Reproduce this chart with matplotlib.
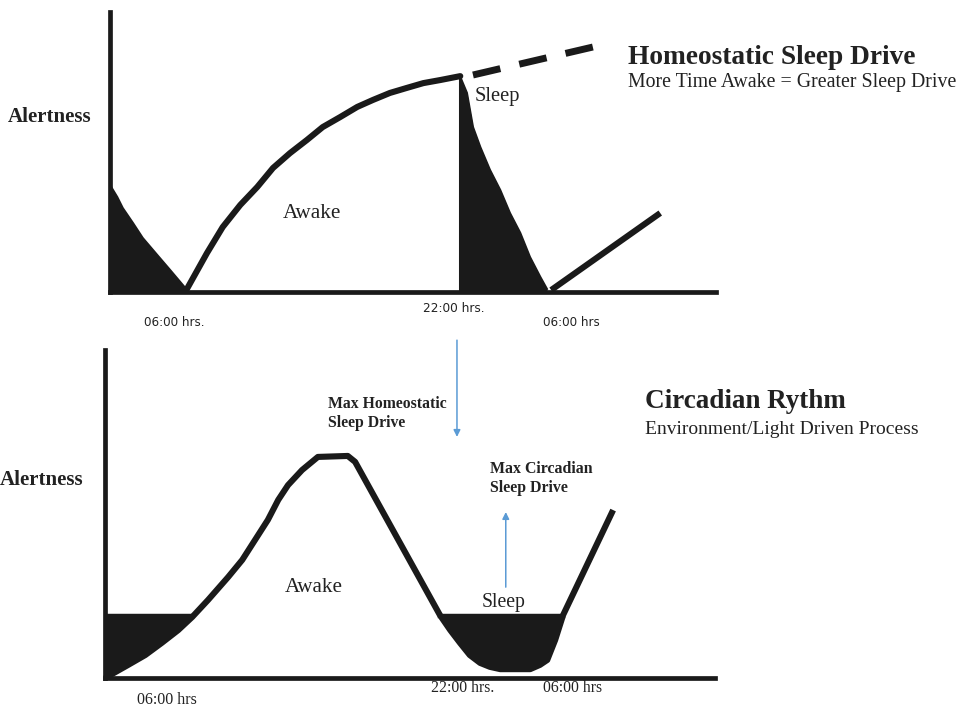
import matplotlib
matplotlib.use("Agg")
import matplotlib.pyplot as plt
import numpy as np

plt.rcParams['lines.scale_dashes'] = False

# ---------------- data (schematic units 0-100) ----------------
# Top panel: homeostatic sleep drive
top_sleep1_x = [0.0, 1.2, 2.1, 3.8, 5.4, 7.8, 9.9, 12.4]
top_sleep1_y = [38.2, 33.9, 30.0, 24.6, 19.3, 13.2, 7.9, 1.5]
top_awake_x = [12.7, 16.0, 18.6, 21.5, 24.3, 26.9, 29.7, 32.5, 35.1, 38.0,
               40.8, 43.4, 46.2, 49.0, 51.7, 54.5, 57.8]
top_awake_y = [1.1, 13.9, 23.2, 31.1, 37.5, 44.3, 49.6, 54.3, 58.9, 62.5,
               66.1, 68.6, 71.1, 72.9, 74.6, 75.7, 77.1]
top_sleep2_x = [57.8, 58.9, 59.4, 59.9, 61.1, 62.7, 64.4, 66.0, 67.7, 69.3, 71.0, 72.1]
top_sleep2_y = [76.8, 71.1, 65.0, 58.9, 51.8, 43.6, 36.4, 28.2, 21.1, 12.5, 5.4, 1.1]
top_dash_x = [59.9, 79.7]
top_dash_y = [77.5, 87.5]
top_rise_x = [72.8, 90.8]
top_rise_y = [0.7, 28.2]

# Bottom panel: circadian rhythm
bot_curve_x = [0.0, 3.8, 6.6, 9.3, 12.0, 14.3, 16.9, 20.2, 22.5, 24.6, 26.7, 28.4,
               30.0, 32.3, 34.9, 39.8, 41.0, 54.9, 56.6, 58.2, 59.8, 61.5, 63.1,
               64.8, 69.7, 71.3, 72.5, 73.8, 75.1, 83.3]
bot_curve_y = [0.0, 4.0, 7.0, 10.7, 14.6, 18.6, 23.8, 30.8, 36.0, 42.1, 48.2, 54.3,
               58.8, 63.4, 67.4, 67.7, 65.9, 19.2, 14.6, 10.7, 7.0, 4.6, 3.4,
               2.7, 2.7, 4.0, 5.5, 11.6, 19.2, 51.2]
bot_level = 18.9          # sleep threshold level
bot_fill1 = (0.0, 14.3)   # early-morning sleep segment
bot_fill2 = (54.9, 75.1)  # night sleep segment
arrow_down_x, arrow_down_y = 57.7, (103.0, 73.5)
arrow_up_x, arrow_up_y = 65.7, (27.7, 50.6)

INK = '#1a1a1a'
BLUE = '#5b9bd5'
LW = 4.4

fig = plt.figure(figsize=(9.64, 7.12), dpi=100)
W, H = 964, 712

def px_axes(x0, y_top, x1, y_bot):
    return fig.add_axes([x0 / W, (H - y_bot) / H, (x1 - x0) / W, (y_bot - y_top) / H])

def style(ax):
    ax.set_xlim(0, 100); ax.set_ylim(0, 100)
    for s in ['top', 'right']:
        ax.spines[s].set_visible(False)
    for s in ['left', 'bottom']:
        ax.spines[s].set_linewidth(3.4)
        ax.spines[s].set_color(INK)
    ax.set_xticks([]); ax.set_yticks([])
    ax.patch.set_alpha(0)

# ---------- top panel ----------
ax1 = px_axes(110, 12, 716, 292)
style(ax1)
ax1.fill_between(top_sleep1_x, 0, top_sleep1_y, color=INK, lw=0)
ax1.plot(top_sleep1_x, top_sleep1_y, color=INK, lw=1.5)
ax1.plot(top_awake_x, top_awake_y, color=INK, lw=LW, solid_capstyle='round', solid_joinstyle='round')
ax1.fill_between(top_sleep2_x, 0, top_sleep2_y, color=INK, lw=0)
ax1.plot(top_sleep2_x, top_sleep2_y, color=INK, lw=1.5, solid_joinstyle='round')
ax1.plot([top_awake_x[-1], top_awake_x[-1]], [0, top_awake_y[-1]], color=INK, lw=2.2)
ax1.plot(top_dash_x, top_dash_y, color=INK, lw=LW + 0.6, dashes=(20.2, 14.0), clip_on=False)
ax1.plot(top_rise_x, top_rise_y, color=INK, lw=LW, solid_capstyle='butt')

# ---------- bottom panel ----------
ax2 = px_axes(105, 350, 715, 678)
style(ax2)
cx = np.array(bot_curve_x); cy = np.array(bot_curve_y)
for (a, b) in (bot_fill1, bot_fill2):
    m = (cx >= a - 1e-9) & (cx <= b + 1e-9)
    ax2.fill_between(cx[m], cy[m], bot_level, color=INK, lw=0)
    ax2.plot([a, b], [bot_level, bot_level], color=INK, lw=3.2)
ax2.plot(bot_curve_x, bot_curve_y, color=INK, lw=LW, solid_joinstyle='round',
         solid_capstyle='butt', clip_on=False)

for ax_x, (y0, y1) in ((arrow_down_x, arrow_down_y), (arrow_up_x, arrow_up_y)):
    ax2.annotate('', xy=(ax_x, y1), xytext=(ax_x, y0),
                 arrowprops=dict(arrowstyle='-|>', color=BLUE, lw=1.1, mutation_scale=10,
                                 shrinkA=0, shrinkB=0), annotation_clip=False)

# ---------- text overlay ----------
axt = fig.add_axes([0, 0, 1, 1])
axt.set_xlim(0, W); axt.set_ylim(H, 0); axt.axis('off')
axt.patch.set_alpha(0)

SERIF = 'Liberation Serif'
SANS = 'DejaVu Sans'
def T(x, y, s, size, bold=False, family=SERIF, color='#222222'):
    axt.text(x, y, s, fontsize=size, fontweight='bold' if bold else 'normal',
             family=family, color=color, ha='left', va='center')

T(8, 117, 'Alertness', 15.0, True)
T(0, 480, 'Alertness', 15.0, True)
T(628, 58, 'Homeostatic Sleep Drive', 19.7, True)
T(628, 83, 'More Time Awake = Greater Sleep Drive', 14.3)
T(645, 401, 'Circadian Rythm', 19.5, True)
T(645, 429, 'Environment/Light Driven Process', 14.0)
T(475, 97, 'Sleep', 14.8)
T(283, 213, 'Awake', 15.3)
T(285, 587, 'Awake', 15.2)
T(482, 603, 'Sleep', 14.2)
T(144, 323, '06:00 hrs.', 8.6, family=SANS)
T(423, 308, '22:00 hrs.', 8.7, family=SANS)
T(543, 322, '06:00 hrs', 8.6, family=SANS)
T(137, 700, '06:00 hrs', 11.5)
T(431, 688, '22:00 hrs.', 11.3)
T(543, 688, '06:00 hrs', 11.3)
T(328, 404, 'Max Homeostatic', 11.3, True)
T(328, 423, 'Sleep Drive', 11.3, True)
T(490, 469, 'Max Circadian', 11.4, True)
T(490, 488, 'Sleep Drive', 11.4, True)

fig.savefig('out.png', dpi=100, facecolor='white')
